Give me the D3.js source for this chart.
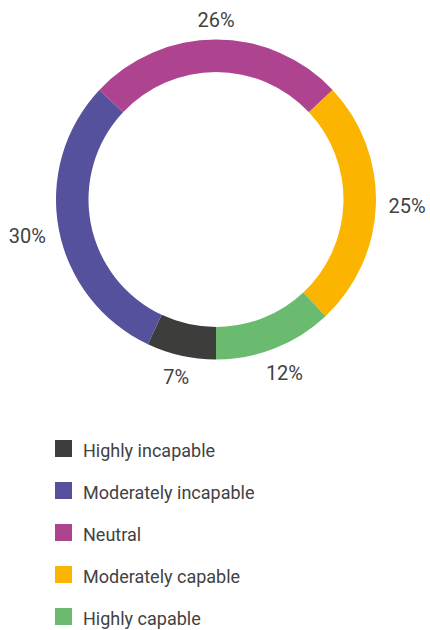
<!DOCTYPE html>
<html><head><meta charset="utf-8">
<script src="https://cdn.jsdelivr.net/npm/d3@7"></script>
<style>body{margin:0;background:#fff;}svg{display:block;font-family:Roboto,sans-serif;}</style>
</head><body>
<svg id="c" width="430" height="630"></svg>
<script>
const categories = ["Highly incapable","Moderately incapable","Neutral","Moderately capable","Highly capable"];
const values = [7,30,26,25,12];
const colors = ["#3d3d3b","#55519c","#ae4490","#fbb400","#6aba6f"];

const svg = d3.select("#c");
const cx = 216, cy = 199.5, rOuter = 160, rInner = 127.5;
const color = d3.scaleOrdinal().domain(categories).range(colors);
const data = categories.map((c,i)=>({cat:c, v:values[i]}));
const pie = d3.pie().value(d=>d.v).sort(null).startAngle(Math.PI).endAngle(3*Math.PI);
const arcs = pie(data);
const arc = d3.arc().innerRadius(rInner).outerRadius(rOuter);
const g = svg.append("g").attr("transform",`translate(${cx},${cy})`);
g.selectAll("path").data(arcs).join("path").attr("d",arc).attr("fill",d=>color(d.data.cat));

const fs = 20, lh = 15;
g.selectAll("text.lbl").data(arcs).join("text").attr("class","lbl")
  .each(function(d){
    const a = (d.startAngle+d.endAngle)/2;
    const s = Math.sin(a), c = -Math.cos(a);
    const txt = d.data.v + "%";
    const w = txt.length === 2 ? 26 : 38;
    const R = 172 + Math.abs(s)*w/2 + Math.abs(c)*lh/2;
    d3.select(this).attr("x", R*s).attr("y", R*c).attr("dy","0.36em")
      .attr("text-anchor","middle").attr("font-size",fs).attr("fill","#424242").text(txt);
  });

const leg = svg.append("g");
const ly = d3.scalePoint().domain(categories).range([440,608]);
const items = leg.selectAll("g").data(categories).join("g").attr("transform",d=>`translate(55,${ly(d)})`);
items.append("rect").attr("width",17).attr("height",17).attr("fill",d=>color(d));
items.append("text").attr("x",28).attr("y",17).attr("font-size",18).attr("fill","#424242").text(d=>d);
</script>
</body></html>
